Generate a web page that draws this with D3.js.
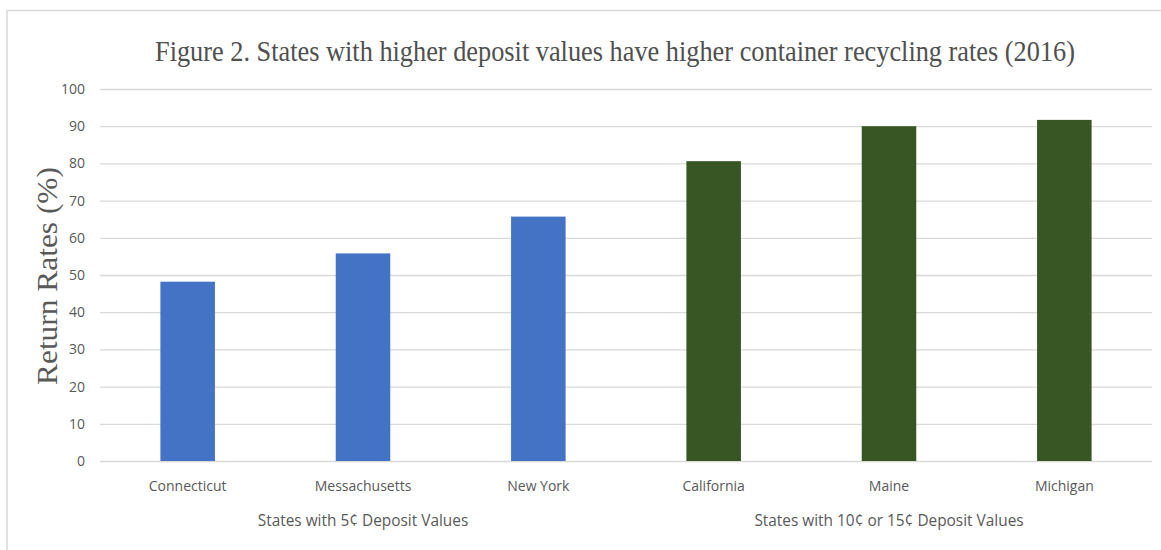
<!DOCTYPE html>
<html>
<head>
<meta charset="utf-8">
<script src="https://cdn.jsdelivr.net/npm/d3@7"></script>
<style>
  html, body { margin: 0; padding: 0; background: #fff; }
  svg { display: block; }
</style>
</head>
<body>
<svg id="chart" width="1161" height="550"></svg>
<script>
const categories = ["Connecticut", "Messachusetts", "New York", "California", "Maine", "Michigan"];
const groups = ["States with 5¢ Deposit Values", "States with 5¢ Deposit Values", "States with 5¢ Deposit Values",
                "States with 10¢ or 15¢ Deposit Values", "States with 10¢ or 15¢ Deposit Values", "States with 10¢ or 15¢ Deposit Values"];
const values = [48.2, 55.8, 65.7, 80.6, 90.0, 91.7];
const groupNames = ["States with 5¢ Deposit Values", "States with 10¢ or 15¢ Deposit Values"];
const groupColors = ["#4472C4", "#375623"];
const yTicks = [0, 10, 20, 30, 40, 50, 60, 70, 80, 90, 100];
const titleText = "Figure 2. States with higher deposit values have higher container recycling rates (2016)";
const yTitle = "Return Rates (%)";

(function () {
const svg = d3.select("#chart");
const W = 1161, H = 550;
const pLeft = 100, pRight = 1152, pTop = 89, pBottom = 461;
const sans = "'Open Sans', 'Liberation Sans', sans-serif";
const serif = "'Liberation Serif', 'Times New Roman', serif";

// outer border (top and left visible)
svg.append("line").attr("x1", 7).attr("x2", W).attr("y1", 10.5).attr("y2", 10.5)
  .attr("stroke", "#d9d9d9").attr("stroke-width", 1.5);
svg.append("line").attr("x1", 7).attr("x2", 7).attr("y1", 10).attr("y2", H)
  .attr("stroke", "#d9d9d9").attr("stroke-width", 1.5);

const x = d3.scaleBand().domain(categories).range([pLeft, pRight])
  .paddingInner(0.689).paddingOuter(0.3445);
const y = d3.scaleLinear().domain([0, 100]).range([pBottom, pTop]);
const color = d3.scaleOrdinal().domain(groupNames).range(groupColors);

// gridlines
svg.append("g").selectAll("line").data(yTicks).join("line")
  .attr("x1", pLeft).attr("x2", pRight)
  .attr("y1", d => y(d) + 0.5).attr("y2", d => y(d) + 0.5)
  .attr("stroke", "#d9d9d9").attr("stroke-width", 1.3);

// y axis labels
const yAxis = d3.axisLeft(y).tickValues(yTicks).tickSize(0).tickPadding(15);
const yg = svg.append("g").attr("transform", `translate(${pLeft},0)`).call(yAxis);
yg.select(".domain").remove();
yg.selectAll("text").attr("fill", "#595959")
  .style("font-family", sans).style("font-size", "14px");

// bars
svg.append("g").selectAll("rect").data(categories).join("rect")
  .attr("x", d => x(d))
  .attr("y", (d, i) => y(values[i]))
  .attr("width", x.bandwidth())
  .attr("height", (d, i) => y(0) - y(values[i]))
  .attr("fill", (d, i) => color(groups[i]));

// x axis category labels
const xAxis = d3.axisBottom(x).tickSize(0).tickPadding(20);
const xg = svg.append("g").attr("transform", `translate(0,${pBottom})`).call(xAxis);
xg.select(".domain").remove();
xg.selectAll("text").attr("fill", "#595959")
  .style("font-family", sans).style("font-size", "14px");

// group labels
groupNames.forEach(g => {
  const cats = categories.filter((c, i) => groups[i] === g);
  const x0 = x(cats[0]), x1 = x(cats[cats.length - 1]) + x.bandwidth();
  svg.append("text")
    .attr("x", (x0 + x1) / 2).attr("y", 526)
    .attr("text-anchor", "middle")
    .attr("fill", "#595959")
    .style("font-family", sans).style("font-size", "15.4px")
    .text(g);
});

// title (vertically stretched serif, as in the reference)
svg.append("text")
  .attr("transform", "translate(615,61) scale(1,1.22)")
  .attr("text-anchor", "middle")
  .attr("fill", "#505050")
  .attr("textLength", 920).attr("lengthAdjust", "spacingAndGlyphs")
  .style("font-family", serif).style("font-size", "25px")
  .text(titleText);

// y axis title
svg.append("text")
  .attr("transform", "translate(57,276) rotate(-90)")
  .attr("text-anchor", "middle")
  .attr("fill", "#595959")
  .attr("textLength", 218).attr("lengthAdjust", "spacingAndGlyphs")
  .style("font-family", serif).style("font-size", "29px")
  .text(yTitle);
})();
</script>
</body>
</html>
